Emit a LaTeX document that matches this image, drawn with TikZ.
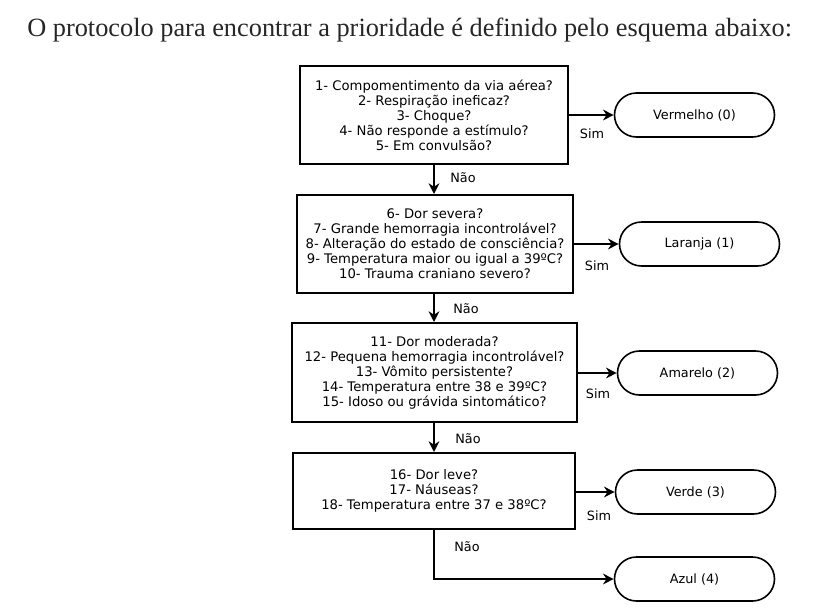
\documentclass[tikz,border=0pt]{standalone}
\usepackage{fontspec}
\setmainfont{Liberation Serif}
\newfontfamily\flowfont{DejaVu Sans}
\usetikzlibrary{arrows.meta,shapes.misc}
\begin{document}
\begin{tikzpicture}
[
    x=0.75pt, y=-0.75pt,
    question/.style={draw, line width=1.5pt, align=center, inner sep=0pt,
        font=\flowfont\fontsize{9.9}{11.25}\selectfont},
    answer/.style={draw, rounded rectangle, line width=1.2pt, inner sep=0pt,
        minimum width=120pt, minimum height=33pt, font=\flowfont\fontsize{9.6}{10}\selectfont},
    arrow/.style={line width=1.5pt, -{Stealth[length=8pt,width=8pt]}},
    tag/.style={font=\flowfont\fontsize{9.6}{10}\selectfont},
]
\useasboundingbox (0,0) rectangle (826,611);
\node[anchor=base west, inner sep=0pt, font=\fontsize{19.75}{22}\selectfont, text=black!85] (title) at (27,36)
    {O protocolo para encontrar a prioridade é definido pelo esquema abaixo:};

\node[question, minimum width=201pt, minimum height=73.5pt] (q1) at (434,115)
    {1- Compomentimento da via aérea?\\ 2- Respiração ineficaz?\\ 3- Choque?\\
     4- Não responde a estímulo?\\ 5- Em convulsão?};
\node[question, minimum width=207pt, minimum height=73.5pt] (q2) at (435,244)
    {6- Dor severa?\\ 7- Grande hemorragia incontrolável?\\ 8- Alteração do estado de consciência?\\
     9- Temperatura maior ou igual a 39ºC?\\ 10- Trauma craniano severo?};
\node[question, minimum width=213.75pt, minimum height=74.25pt] (q3) at (434.5,372.5)
    {11- Dor moderada?\\ 12- Pequena hemorragia incontrolável?\\ 13- Vômito persistente?\\
     14- Temperatura entre 38 e 39ºC?\\ 15- Idoso ou grávida sintomático?};
\node[question, minimum width=211.5pt, minimum height=57pt] (q4) at (434,491)
    {16- Dor leve?\\ 17- Náuseas?\\ 18- Temperatura entre 37 e 38ºC?};

\node[answer] (red) at (694.5,115) {Vermelho (0)};
\node[answer] (orange) at (699.5,244) {Laranja (1)};
\node[answer] (yellow) at (697.5,373) {Amarelo (2)};
\node[answer] (green) at (695.5,492) {Verde (3)};
\node[answer] (blue) at (694.5,579) {Azul (4)};

\draw[arrow] (q1.south) -- (q2.north -| q1.south);
\draw[arrow] (q2.south -| q1.south) -- (q3.north -| q1.south);
\draw[arrow] (q3.south -| q1.south) -- (q4.north -| q1.south);
\draw[arrow] (q4.south) |- (blue.west);
\draw[arrow] (q1.east) -- (red.west);
\draw[arrow] (q2.east |- orange.west) -- (orange.west);
\draw[arrow] (q3.east |- yellow.west) -- (yellow.west);
\draw[arrow] (q4.east |- green.west) -- (green.west);

\node[tag] (sim1) at (592,134) {Sim};
\node[tag] (sim2) at (597,266) {Sim};
\node[tag] (sim3) at (598,394) {Sim};
\node[tag] (sim4) at (599,516) {Sim};
\node[tag] (nao1) at (463,178) {Não};
\node[tag] (nao2) at (466,309) {Não};
\node[tag] (nao3) at (468,439) {Não};
\node[tag] (nao4) at (467,547) {Não};
\end{tikzpicture}
\end{document}
